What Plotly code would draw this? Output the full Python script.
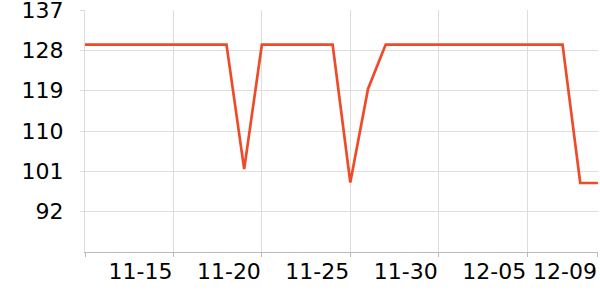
import plotly.graph_objects as go

dates = ["2023-11-10","2023-11-11","2023-11-12","2023-11-13","2023-11-14","2023-11-15",
         "2023-11-16","2023-11-17","2023-11-18","2023-11-19","2023-11-20","2023-11-21",
         "2023-11-22","2023-11-23","2023-11-24","2023-11-25","2023-11-26","2023-11-27",
         "2023-11-28","2023-11-29","2023-11-30","2023-12-01","2023-12-02","2023-12-03",
         "2023-12-04","2023-12-05","2023-12-06","2023-12-07","2023-12-08","2023-12-09"]
values = [129.3,129.3,129.3,129.3,129.3,129.3,129.3,129.3,129.3,101.5,129.3,129.3,
          129.3,129.3,129.3,98.5,119.4,129.3,129.3,129.3,129.3,129.3,129.3,129.3,
          129.3,129.3,129.3,129.3,98.4,98.4]

x_tickvals = ["2023-11-10","2023-11-15","2023-11-20","2023-11-25","2023-11-30","2023-12-05","2023-12-09"]
x_ticktext = ["","11-15","11-20","11-25","11-30","12-05","12-09"]
y_tickvals = [92,101,110,119,128,137]

fig = go.Figure()
fig.add_trace(go.Scatter(x=dates, y=values, mode="lines",
                         line=dict(color="#EE4B2B", width=2.7), hoverinfo="skip"))

fig.update_layout(
    width=600, height=300,
    margin=dict(l=85, r=2, t=10, b=48),
    paper_bgcolor="white", plot_bgcolor="white",
    showlegend=False,
    font=dict(family="DejaVu Sans", size=22, color="#000"),
)
fig.update_xaxes(
    type="date", range=["2023-11-10","2023-12-09 00:05"],
    tickvals=x_tickvals, ticktext=x_ticktext,
    ticklabelposition="outside left", tickangle=0,
    ticklabeloverflow="allow",
    showgrid=True, gridcolor="#dddddd", gridwidth=1,
    showline=True, linecolor="#bbbbbb", linewidth=1,
    ticks="outside", ticklen=4, tickcolor="#bbbbbb",
    tickfont=dict(size=22, color="#000"),
    automargin=False,
)
fig.update_yaxes(
    range=[83,137.02], tickvals=y_tickvals,
    ticklabeloverflow="allow",
    showgrid=True, gridcolor="#dddddd", gridwidth=1,
    showline=True, linecolor="#dddddd", linewidth=1,
    ticks="outside", ticklen=4, tickcolor="#dddddd",
    ticklabelstandoff=12,
    tickfont=dict(size=22, color="#000"),
    zeroline=False, automargin=False,
)
fig.write_html("out.html")
